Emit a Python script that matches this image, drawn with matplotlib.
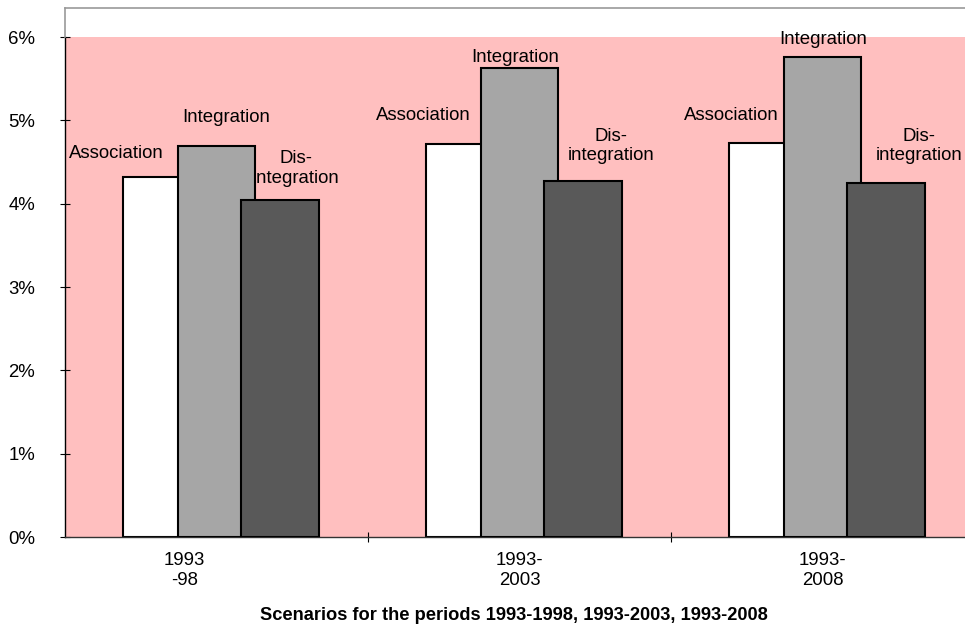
import matplotlib
matplotlib.use("Agg")
import matplotlib.pyplot as plt
from matplotlib.lines import Line2D
from matplotlib.transforms import ScaledTranslation
import numpy as np

plt.rcParams['font.family'] = ['Liberation Sans', 'DejaVu Sans']

categories = ["1993\n-98", "1993-\n2003", "1993-\n2008"]
series_names = ["Association", "Integration", "Dis-\nintegration"]
association = [4.32, 4.72, 4.73]
integration = [4.69, 5.63, 5.76]
disintegration = [4.04, 4.27, 4.25]
ytick_values = [0, 1, 2, 3, 4, 5, 6]
ytick_labels = ["0%", "1%", "2%", "3%", "4%", "5%", "6%"]
xlabel = "Scenarios for the periods 1993-1998, 1993-2003, 1993-2008"

series = [association, integration, disintegration]
colors = ["#FFFFFF", "#A6A6A6", "#595959"]
offsets = [-0.18, 0.0, 0.21]
width = 0.257
# label offsets in pixels (dx, dy) from bar top-center, per series per group
label_offsets = [
    [(-46, 23), (-42, 28), (-37, 27)],
    [(10, 29), (-4, 10), (1, 18)],
    [(16, 32), (28, 35), (33, 37)],
]

W, H = 965, 630
fig = plt.figure(figsize=(W / 100, H / 100), dpi=100)
ax = fig.add_axes([65 / W, (630 - 537) / H, 909 / W, 500 / H])
ax.set_facecolor("#FFBFBF")

FS = 13.4
x = np.arange(len(categories))
for s, (vals, col, off) in enumerate(zip(series, colors, offsets)):
    bars = ax.bar(x + off, vals, width=width, color=col, edgecolor="black",
                  linewidth=1.5, zorder=2 + s)
    for g, b in enumerate(bars):
        dx, dy = label_offsets[s][g]
        ax.annotate(series_names[s], xy=(b.get_x() + b.get_width() / 2, b.get_height()),
                    xytext=(dx, dy), textcoords="offset pixels", ha="center",
                    va="center", multialignment="center", fontsize=FS, zorder=10)

ax.set_xlim(-0.5, 2.5)
ax.set_ylim(0, 6)
ax.set_yticks(ytick_values)
ax.set_yticklabels(ytick_labels)
ax.set_xticks(x)
ax.set_xticklabels(categories)
ax.set_xticks([0.5, 1.5], minor=True)
ax.tick_params(axis="x", which="major", length=0, pad=11, labelsize=FS)
ax.tick_params(axis="x", which="minor", direction="inout", length=7.2, width=0.8)
ax.tick_params(axis="y", direction="inout", length=7.2, width=0.8, pad=18, labelsize=FS)

lbl0 = ax.get_xticklabels()[0]
lbl0.set_transform(lbl0.get_transform() + ScaledTranslation(-0.32, 0, fig.dpi_scale_trans))

for sp in ["top", "right"]:
    ax.spines[sp].set_visible(False)
ax.spines["left"].set_linewidth(1.0)
ax.spines["bottom"].set_linewidth(1.0)
ax.spines["bottom"].set_color("#333333")

ax.set_xlabel(xlabel, fontsize=FS * 0.98, fontweight="bold")
ax.xaxis.set_label_coords((514 - 65) / 909, -(615 - 537) / 500)
ax.xaxis.label.set_va("center")

# chart-area border (partial, gray)
fig.add_artist(Line2D([65 / W, 1.0], [1 - 8 / H, 1 - 8 / H], color="#999999", lw=1.2,
                      transform=fig.transFigure))
fig.add_artist(Line2D([65 / W, 65 / W], [1 - 8 / H, 1 - 37 / H], color="#999999", lw=1.2,
                      transform=fig.transFigure))

fig.savefig("out.png", dpi=100)
